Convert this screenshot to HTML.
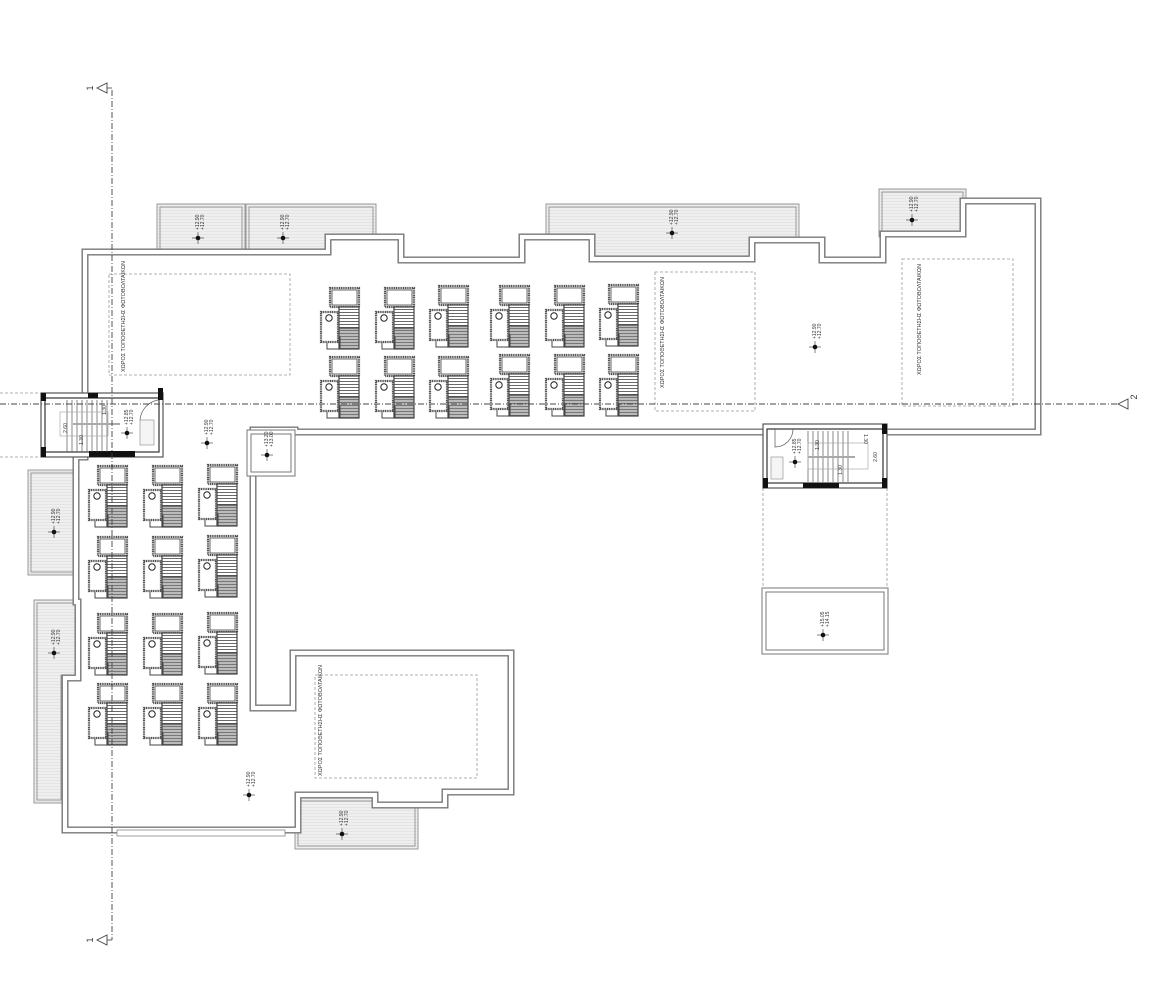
<!DOCTYPE html>
<html><head><meta charset="utf-8"><style>
html,body{margin:0;padding:0;background:#fff}
svg{display:block}
text{font-family:"Liberation Sans",sans-serif;fill:#333}
</style></head><body>
<svg width="1159" height="981" viewBox="0 0 1159 981" xmlns="http://www.w3.org/2000/svg">
<defs>
<pattern id="hat" width="4" height="3" patternUnits="userSpaceOnUse"><rect width="4" height="3" fill="#fff"/><line x1="0" y1="1.5" x2="4" y2="1.5" stroke="#444" stroke-width="0.8"/></pattern>
<pattern id="hat2" width="4" height="3" patternUnits="userSpaceOnUse"><rect width="4" height="3" fill="#bbb"/><line x1="0" y1="1.5" x2="4" y2="1.5" stroke="#666" stroke-width="0.8"/></pattern>
<pattern id="bal" width="3" height="3" patternUnits="userSpaceOnUse"><rect width="3" height="3" fill="#efefef"/><line x1="0" y1="0.5" x2="3" y2="0.5" stroke="#dedede" stroke-width="0.6"/></pattern>
<g id="p">
<rect x="10" y="1" width="29" height="19" fill="#fff" stroke="#555" stroke-width="2.2" stroke-dasharray="1.2 0.6"/>
<rect x="12" y="3" width="25" height="15" fill="#fff" stroke="#444" stroke-width="0.8"/>
<rect x="19" y="20" width="20" height="21" fill="url(#hat)" stroke="#444" stroke-width="1.2"/>
<rect x="19" y="41" width="20" height="21" fill="url(#hat2)" stroke="#444" stroke-width="1.2"/>
<rect x="7" y="50" width="13" height="12" fill="none" stroke="#444" stroke-width="1"/>
<rect x="1" y="25" width="17" height="30" fill="#fff" stroke="#555" stroke-width="2.2" stroke-dasharray="1.2 0.6"/>
<circle cx="9" cy="31" r="3.2" fill="#fff" stroke="#222" stroke-width="1"/>
</g>
<g id="el">
<line x1="-6" y1="0" x2="6" y2="0" stroke="#333" stroke-width="0.6"/>
<line x1="0" y1="-6" x2="0" y2="6" stroke="#333" stroke-width="0.6"/>
<circle cx="0" cy="0" r="2.3" fill="#111"/>
</g>
</defs>

<!-- balconies -->
<g stroke="#999" stroke-width="1" fill="url(#bal)">
<rect x="157" y="204" width="88" height="50"/><rect x="160" y="207" width="82" height="46" fill="none"/>
<rect x="246" y="204" width="130" height="50"/><rect x="249" y="207" width="124" height="46" fill="none"/>
<rect x="546" y="204" width="253" height="56"/><rect x="549" y="207" width="247" height="52" fill="none"/>
<rect x="879" y="189" width="87" height="48"/><rect x="882" y="192" width="81" height="44" fill="none"/>
<rect x="28" y="470" width="48" height="105"/><rect x="31" y="473" width="42" height="99" fill="none"/>
<polygon points="34,600 78,600 78,678 64,678 64,803 34,803"/>
<polygon points="37,603 75,603 75,675 61,675 61,800 37,800" fill="none"/>
<rect x="295" y="798" width="123" height="51"/><rect x="298" y="801" width="117" height="45" fill="none"/>
</g>

<!-- main outline -->
<path d="M85 252 H328 V237 H401 V260 H522 V237 H592 V259 H752 V240 H822 V260 H883 V234 H963 V201 H1038 V432 H295 V430 H253 V708 H293 V653 H511 V792 H445 V805 H375 V795 H298 V830 H65 V678 H78 V602 H76 V457 H85 Z" fill="#fff" stroke="#777" stroke-width="7" stroke-linejoin="miter"/>
<path d="M85 252 H328 V237 H401 V260 H522 V237 H592 V259 H752 V240 H822 V260 H883 V234 H963 V201 H1038 V432 H295 V430 H253 V708 H293 V653 H511 V792 H445 V805 H375 V795 H298 V830 H65 V678 H78 V602 H76 V457 H85 Z" fill="none" stroke="#fff" stroke-width="4.2" stroke-linejoin="miter"/>
<rect x="117" y="830" width="168" height="6" fill="#fff" stroke="#888" stroke-width="0.8"/>

<!-- small box -->
<rect x="247" y="430" width="48" height="46" fill="#fff" stroke="#777" stroke-width="1"/>
<rect x="251" y="434" width="40" height="38" fill="none" stroke="#777" stroke-width="1"/>

<!-- dashed PV areas -->
<g fill="none" stroke="#999" stroke-width="0.8" stroke-dasharray="3 2">
<rect x="109" y="274" width="181" height="101"/>
<rect x="655" y="272" width="100" height="139"/>
<rect x="902" y="259" width="111" height="147"/>
<rect x="315" y="675" width="162" height="103"/>
<line x1="763" y1="488" x2="763" y2="588"/><line x1="887" y1="488" x2="887" y2="588"/>
<line x1="0" y1="393" x2="40" y2="393"/><line x1="0" y1="457" x2="40" y2="457"/>
</g>
<g font-size="5.5">
<text transform="translate(125,372) rotate(-90)">ΧΩΡΟΣ ΤΟΠΟΘΕΤΗΣΗΣ ΦΩΤΟΒΟΛΤΑΙΚΩΝ</text>
<text transform="translate(664,388) rotate(-90)">ΧΩΡΟΣ ΤΟΠΟΘΕΤΗΣΗΣ ΦΩΤΟΒΟΛΤΑΙΚΩΝ</text>
<text transform="translate(921,375) rotate(-90)">ΧΩΡΟΣ ΤΟΠΟΘΕΤΗΣΗΣ ΦΩΤΟΒΟΛΤΑΙΚΩΝ</text>
<text transform="translate(322,776) rotate(-90)">ΧΩΡΟΣ ΤΟΠΟΘΕΤΗΣΗΣ ΦΩΤΟΒΟΛΤΑΙΚΩΝ</text>
</g>

<!-- left stair -->
<g>
<rect x="41" y="393" width="122" height="64" fill="#fff" stroke="#555" stroke-width="1.2"/>
<rect x="45" y="398" width="114" height="54" fill="none" stroke="#333" stroke-width="1.2"/>
<rect x="41" y="393" width="5" height="8" fill="#111"/><rect x="41" y="447" width="5" height="10" fill="#111"/>
<rect x="89" y="451" width="46" height="6" fill="#111"/><rect x="88" y="393" width="10" height="5" fill="#111"/>
<rect x="158" y="388" width="5" height="12" fill="#111"/>
<g stroke="#555" stroke-width="0.7">
<line x1="67" y1="400" x2="67" y2="452"/><line x1="72" y1="400" x2="72" y2="452"/><line x1="77" y1="400" x2="77" y2="452"/><line x1="82" y1="400" x2="82" y2="452"/><line x1="87" y1="400" x2="87" y2="452"/><line x1="92" y1="400" x2="92" y2="452"/><line x1="97" y1="400" x2="97" y2="452"/><line x1="102" y1="400" x2="102" y2="452"/><line x1="107" y1="400" x2="107" y2="452"/>
<line x1="73" y1="424" x2="120" y2="424" stroke="#aaa" stroke-width="2"/>
</g>
<rect x="60" y="412" width="48" height="24" fill="none" stroke="#aaa" stroke-width="0.7"/>
<path d="M158 400 A22 22 0 0 0 140 420" fill="none" stroke="#555" stroke-width="0.7"/>
<rect x="140" y="420" width="14" height="25" fill="#f5f5f5" stroke="#888" stroke-width="0.6"/>
<text transform="translate(67,428) rotate(-90)" font-size="5" text-anchor="middle">2.60</text>
<text transform="translate(106,410) rotate(-90)" font-size="5" text-anchor="middle">1.30</text>
<text transform="translate(83,440) rotate(-90)" font-size="5" text-anchor="middle">1.30</text>
</g>

<!-- right stair -->
<g>
<rect x="763" y="424" width="124" height="64" fill="#fff" stroke="#555" stroke-width="1.2"/>
<rect x="767" y="429" width="116" height="54" fill="none" stroke="#333" stroke-width="1.2"/>
<rect x="882" y="424" width="5" height="10" fill="#111"/><rect x="882" y="478" width="5" height="10" fill="#111"/>
<rect x="763" y="478" width="5" height="10" fill="#111"/>
<rect x="803" y="483" width="36" height="5" fill="#111"/>
<g stroke="#555" stroke-width="0.7">
<line x1="808" y1="431" x2="808" y2="482"/><line x1="813" y1="431" x2="813" y2="482"/><line x1="818" y1="431" x2="818" y2="482"/><line x1="823" y1="431" x2="823" y2="482"/><line x1="828" y1="431" x2="828" y2="482"/><line x1="833" y1="431" x2="833" y2="482"/><line x1="838" y1="431" x2="838" y2="482"/><line x1="843" y1="431" x2="843" y2="482"/><line x1="848" y1="431" x2="848" y2="482"/>
<line x1="808" y1="457" x2="855" y2="457" stroke="#aaa" stroke-width="2"/>
</g>
<rect x="808" y="443" width="60" height="26" fill="none" stroke="#aaa" stroke-width="0.7"/>
<path d="M775 429 V447 A18 18 0 0 0 793 429" fill="none" stroke="#555" stroke-width="0.7"/>
<rect x="771" y="457" width="12" height="22" fill="#f5f5f5" stroke="#888" stroke-width="0.6"/>
<text transform="translate(819,445) rotate(-90)" font-size="5" text-anchor="middle">1.30</text>
<text transform="translate(842,470) rotate(-90)" font-size="5" text-anchor="middle">1.30</text>
<text transform="translate(877,457) rotate(-90)" font-size="5" text-anchor="middle">2.60</text>
<text transform="translate(864,439) rotate(90)" font-size="5" text-anchor="middle">1.30</text>
</g>
<rect x="762" y="588" width="126" height="66" fill="#fff" stroke="#777" stroke-width="1"/>
<rect x="766" y="592" width="118" height="58" fill="none" stroke="#777" stroke-width="1"/>

<!-- panels top -->
<use href="#p" x="320" y="287"/><use href="#p" x="375" y="287"/><use href="#p" x="429" y="285"/>
<use href="#p" x="490" y="285"/><use href="#p" x="545" y="285"/><use href="#p" x="599" y="284"/>
<use href="#p" x="320" y="356"/><use href="#p" x="375" y="356"/><use href="#p" x="429" y="356"/>
<use href="#p" x="490" y="354"/><use href="#p" x="545" y="354"/><use href="#p" x="599" y="354"/>
<!-- panels left -->
<use href="#p" x="88" y="465"/><use href="#p" x="143" y="465"/><use href="#p" x="198" y="464"/>
<use href="#p" x="88" y="536"/><use href="#p" x="143" y="536"/><use href="#p" x="198" y="535"/>
<use href="#p" x="88" y="613"/><use href="#p" x="143" y="613"/><use href="#p" x="198" y="612"/>
<use href="#p" x="88" y="683"/><use href="#p" x="143" y="683"/><use href="#p" x="198" y="683"/>

<!-- axis lines on top -->
<g stroke="#444" stroke-width="0.9" stroke-dasharray="6 2 1 2" fill="none">
<line x1="0" y1="404" x2="1120" y2="404"/>
<line x1="112" y1="90" x2="112" y2="940"/>
</g>
<g stroke="#444" stroke-width="0.9" fill="#fff">
<polygon points="97,88 107,83 107,93"/>
<polygon points="97,940 107,935 107,945"/>
<polygon points="1118,404 1128,399 1128,409"/>
</g>
<line x1="107" y1="88" x2="112" y2="88" stroke="#555" stroke-width="0.9"/>
<line x1="107" y1="940" x2="112" y2="940" stroke="#555" stroke-width="0.9"/>
<text font-size="9" transform="translate(93,88) rotate(-90)" text-anchor="middle">1</text>
<text font-size="9" transform="translate(93,940) rotate(-90)" text-anchor="middle">1</text>
<text font-size="9" transform="translate(1137,397) rotate(-90)" text-anchor="middle">2</text>

<!-- elevation marks -->
<g font-size="5">
<use href="#el" x="198" y="238"/><text transform="translate(199,230) rotate(-90)">+12.90</text><text transform="translate(204,230) rotate(-90)">+12.70</text>
<use href="#el" x="283" y="238"/><text transform="translate(284,230) rotate(-90)">+12.90</text><text transform="translate(289,230) rotate(-90)">+12.70</text>
<use href="#el" x="672" y="233"/><text transform="translate(673,225) rotate(-90)">+12.90</text><text transform="translate(678,225) rotate(-90)">+12.70</text>
<use href="#el" x="912" y="220"/><text transform="translate(913,212) rotate(-90)">+12.90</text><text transform="translate(918,212) rotate(-90)">+12.70</text>
<use href="#el" x="815" y="347"/><text transform="translate(816,339) rotate(-90)">+12.90</text><text transform="translate(821,339) rotate(-90)">+12.70</text>
<use href="#el" x="207" y="443"/><text transform="translate(208,435) rotate(-90)">+12.90</text><text transform="translate(213,435) rotate(-90)">+12.70</text>
<use href="#el" x="127" y="433"/><text transform="translate(128,425) rotate(-90)">+12.85</text><text transform="translate(133,425) rotate(-90)">+12.70</text>
<use href="#el" x="267" y="455"/><text transform="translate(268,447) rotate(-90)">+13.20</text><text transform="translate(273,447) rotate(-90)">+13.00</text>
<use href="#el" x="795" y="462"/><text transform="translate(796,454) rotate(-90)">+12.85</text><text transform="translate(801,454) rotate(-90)">+12.70</text>
<use href="#el" x="54" y="532"/><text transform="translate(55,524) rotate(-90)">+12.90</text><text transform="translate(60,524) rotate(-90)">+12.70</text>
<use href="#el" x="54" y="653"/><text transform="translate(55,645) rotate(-90)">+12.90</text><text transform="translate(60,645) rotate(-90)">+12.70</text>
<use href="#el" x="249" y="795"/><text transform="translate(250,787) rotate(-90)">+12.90</text><text transform="translate(255,787) rotate(-90)">+12.70</text>
<use href="#el" x="342" y="834"/><text transform="translate(343,826) rotate(-90)">+12.90</text><text transform="translate(348,826) rotate(-90)">+12.70</text>
<use href="#el" x="823" y="635"/><text transform="translate(824,627) rotate(-90)">+15.05</text><text transform="translate(829,627) rotate(-90)">+14.15</text>
</g>
</svg>
</body></html>
